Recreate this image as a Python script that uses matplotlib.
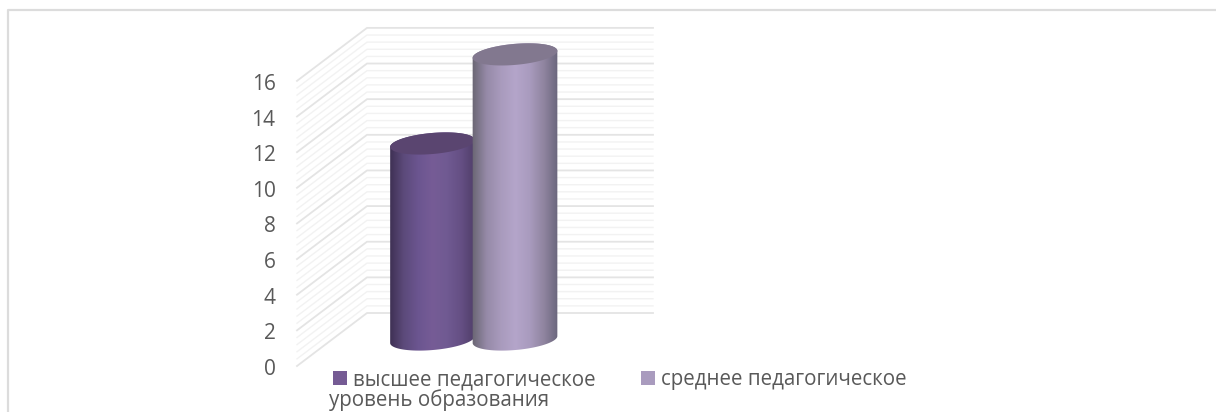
import numpy as np
import matplotlib
matplotlib.use("Agg")
import matplotlib.pyplot as plt
from matplotlib.colors import LinearSegmentedColormap
from matplotlib.patches import Polygon, Rectangle

# Data
series_names = ["высшее педагогическое", "среднее педагогическое"]
series_values = [11, 16]
axis_title = "уровень образования"
major_ticks = [0, 2, 4, 6, 8, 10, 12, 14, 16]
minor_per_major = 5

# Layout, all in pixels of the 1216x412 picture
PX_PER_UNIT = 17.82
FRONT_ZERO_Y = 366
DEPTH_DX, DEPTH_DY = 70, 53
WALL_FRONT_X, WALL_BACK_X, WALL_RIGHT_X = 297, 367, 653
BAR_DEPTH = 0.5
BAR_CENTERS = [432.5, 515]
BAR_HALF_W, BAR_HALF_H = 42.5, 10.5
TILT = np.radians(5)

GRAD_STOPS = [
    ["#3d2f52", "#5c4a7a", "#6b5590", "#765c96", "#705a92", "#654f84", "#4f3d68"],
    ["#6a6673", "#968aa8", "#a99bbd", "#b4a5ca", "#a99bbe", "#8f849f", "#68647a"],
]
TOP_COLORS = ["#5a4570", "#82788f"]
SWATCHES = ["#755b94", "#a99bbe"]
TEXT_COLOR = "#595959"

plt.rcParams["font.family"] = ["Open Sans", "DejaVu Sans"]

fig = plt.figure(figsize=(12.16, 4.12), dpi=100)
ax = fig.add_axes([0, 0, 1, 1])
# x runs in pixels, y in chart values on the front plane
ax.set_xlim(0, 1216)
ax.set_ylim((FRONT_ZERO_Y - 412) / PX_PER_UNIT, FRONT_ZERO_Y / PX_PER_UNIT)
ax.axis("off")


def lift(pixels):
    return pixels / PX_PER_UNIT


# Outer frame, open on the right and at the bottom
ax.plot([8, 8, 1216], [lift(FRONT_ZERO_Y - 412), lift(FRONT_ZERO_Y - 10), lift(FRONT_ZERO_Y - 10)],
        color="#dcdcdc", lw=1.6, zorder=1)

# Walls: grid lines on the back and side
grid_values = np.arange(0, max(major_ticks) + 0.01, 2 / minor_per_major)
for v in grid_values:
    is_major = abs(v / 2 - round(v / 2)) < 1e-6
    color = "#e4e4e4" if is_major else "#f2f2f2"
    width = 1.3 if is_major else 1.0
    back_y = v + lift(DEPTH_DY)
    ax.plot([WALL_FRONT_X, WALL_BACK_X, WALL_RIGHT_X], [v, back_y, back_y],
            color=color, lw=width, zorder=2 if is_major else 1.5)

# Value labels
for tick in major_ticks:
    ax.text(275.5, tick - lift(1), str(tick), ha="right", va="center_baseline", fontsize=15, color=TEXT_COLOR)


def ellipse_points(cx, cy, t):
    # cx, cy in pixels relative to the front zero line, tilted ellipse
    x = cx + BAR_HALF_W * np.cos(t) * np.cos(TILT) - BAR_HALF_H * np.sin(t) * np.sin(TILT)
    y = cy + BAR_HALF_W * np.cos(t) * np.sin(TILT) + BAR_HALF_H * np.sin(t) * np.cos(TILT)
    return x, y


# Cylinders, the taller one sits in front
base_lift = BAR_DEPTH * DEPTH_DY
for i, value in enumerate(series_values):
    cx = BAR_CENTERS[i]
    top_py = value * PX_PER_UNIT + base_lift
    low = np.linspace(np.pi, 2 * np.pi, 60)
    high = np.linspace(0, np.pi, 60)
    bx, by = ellipse_points(cx, base_lift, low)
    tx, ty = ellipse_points(cx, top_py, high)
    body = np.column_stack([np.r_[bx, tx], lift(np.r_[by, ty])])
    patch = Polygon(body, closed=True, facecolor="none", edgecolor="none", zorder=3 + i)
    ax.add_patch(patch)

    cmap = LinearSegmentedColormap.from_list("bar%d" % i, GRAD_STOPS[i])
    img = ax.imshow(np.linspace(0, 1, 128).reshape(1, -1), cmap=cmap, aspect="auto",
                    extent=[cx - BAR_HALF_W - 1, cx + BAR_HALF_W + 1, body[:, 1].min(), body[:, 1].max()],
                    zorder=3 + i, interpolation="bilinear")
    img.set_clip_path(patch)

    t_all = np.linspace(0, 2 * np.pi, 120)
    ex, ey = ellipse_points(cx, top_py, t_all)
    ax.fill(ex, lift(ey), color=TOP_COLORS[i], lw=0, zorder=3.5 + i)

ax.set_xlim(0, 1216)
ax.set_ylim((FRONT_ZERO_Y - 412) / PX_PER_UNIT, FRONT_ZERO_Y / PX_PER_UNIT)

# Legend row and axis title
legend_y = lift(FRONT_ZERO_Y - 378)
for name, swatch, sx in zip(series_names, SWATCHES, [333, 641]):
    ax.add_patch(Rectangle((sx, legend_y - lift(7)), 14, lift(14), facecolor=swatch, edgecolor="none", zorder=5))
    ax.text(sx + 20, legend_y + lift(1), name, ha="left", va="center_baseline", fontsize=14.8, color=TEXT_COLOR)
ax.text(329, lift(FRONT_ZERO_Y - 398), axis_title, ha="left", va="center_baseline", fontsize=14.8, color=TEXT_COLOR)

fig.savefig("out.png", dpi=100)
